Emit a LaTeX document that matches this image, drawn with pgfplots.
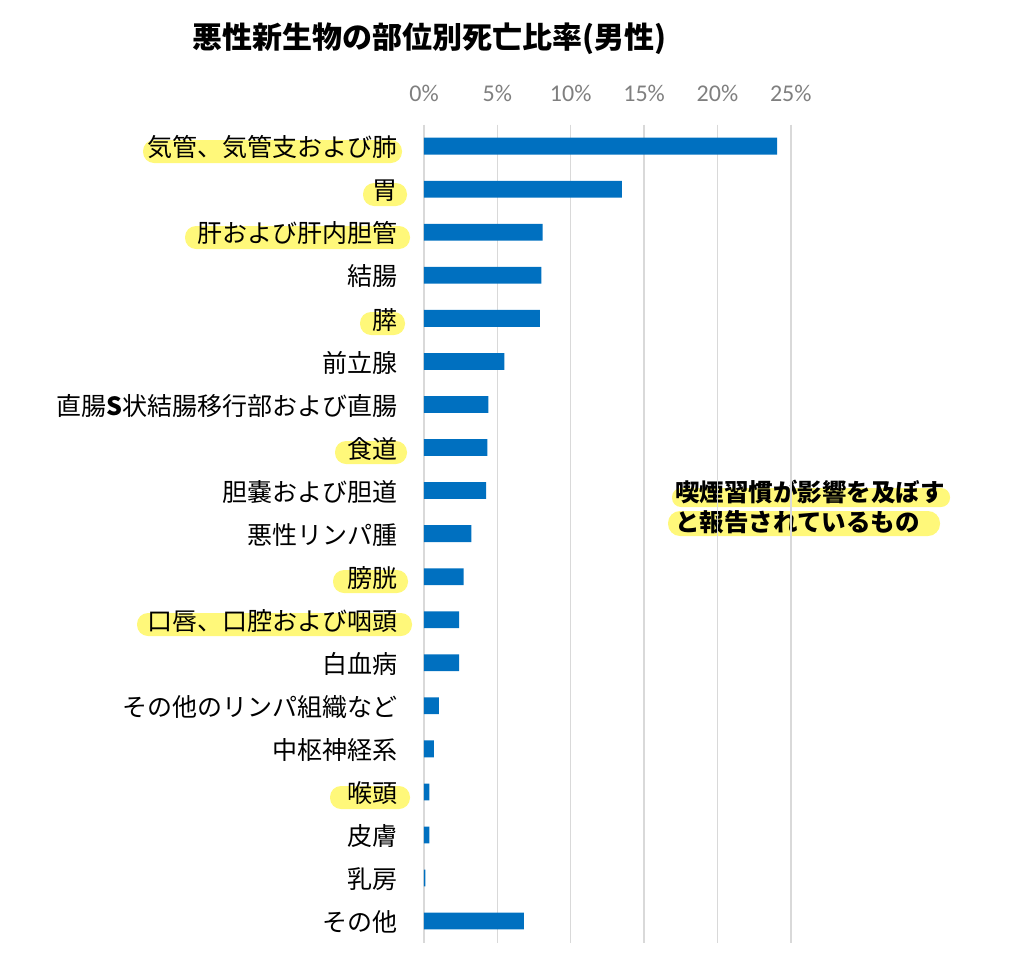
\documentclass[border=0pt]{standalone}
\usepackage{fontspec}
\setmainfont{Noto Sans CJK JP}
\newfontfamily\tickfont{Carlito}
\usepackage{pgfplots}
\pgfplotsset{compat=1.18}

\definecolor{barblue}{HTML}{0070C0}
\definecolor{gridgray}{HTML}{D9D9D9}
\definecolor{tickgray}{HTML}{7F7F7F}
\definecolor{marker}{RGB}{255,248,122}

\pgfdeclarelayer{bg}
\pgfsetlayers{bg,main}

\begin{document}
\begin{tikzpicture}[x=0.5pt,y=-0.5pt]
\path[use as bounding box] (0,0) rectangle (1024,980);

% highlighter strokes behind the labels
\begin{pgfonlayer}{bg}
\fill[marker, rounded corners=5.5pt] (143,140) rectangle (402,163);
\fill[marker, rounded corners=5.5pt] (363,183) rectangle (407,206);
\fill[marker, rounded corners=5.5pt] (185,226) rectangle (410,249);
\fill[marker, rounded corners=5.5pt] (360,312) rectangle (405,335);
\fill[marker, rounded corners=5.5pt] (335,441) rectangle (407,464);
\fill[marker, rounded corners=5.5pt] (333,570) rectangle (408,593);
\fill[marker, rounded corners=5.5pt] (137,613) rectangle (412,636);
\fill[marker, rounded corners=5.5pt] (330,786) rectangle (410,809);
\fill[marker, rounded corners=4.5pt] (672,488) rectangle (950,507);
\fill[marker, rounded corners=6pt] (668,511) rectangle (940,536);
\end{pgfonlayer}

\node[anchor=west, inner sep=0pt, font=\fontsize{15pt}{18pt}\selectfont\bfseries]
  at (192,39) {悪性新生物の部位別死亡比率(男性)};

\node[anchor=west, inner sep=0pt, align=left,
  font=\fontsize{12.25pt}{14.75pt}\selectfont\bfseries]
  at (675,507) {喫煙習慣が影響を及ぼす\\と報告されているもの};

\begin{axis}[
at={(212pt,-471.3pt)}, anchor=south west,
scale only axis,
width=185.6pt, height=409pt,
xmin=0, xmax=25.3,
ymin=-0.5, ymax=18.5,
y dir=reverse,
axis line style={draw=none},
tick style={draw=none},
xticklabel pos=upper,
xtick={0,5,10,15,20,25},
xticklabels={0\%,5\%,10\%,15\%,20\%,25\%},
xticklabel style={anchor=center, yshift=15.8pt, text=tickgray,
  font=\tickfont\fontsize{12pt}{14pt}\selectfont},
xmajorgrids,
x grid style={gridgray, line width=0.75pt},
ytick={0,...,18},
yticklabels={気管、気管支および肺,胃,肝および肝内胆管,結腸,膵,前立腺,直腸\textbf{S}状結腸移行部および直腸,食道,胆嚢および胆道,悪性リンパ腫,膀胱,口唇、口腔および咽頭,白血病,その他のリンパ組織など,中枢神経系,喉頭,皮膚,乳房,その他},
yticklabel style={anchor=east, inner sep=0pt, xshift=-9pt, yshift=-0.6pt,
  font=\fontsize{12.5pt}{15pt}\selectfont},
xbar, bar width=8.4pt, bar shift=0pt,
clip=false,
]
\addplot[fill=barblue, draw=none] coordinates {
(24.06,0) (13.48,1) (8.09,2) (8.0,3) (7.9,4) (5.47,5) (4.39,6)
(4.32,7) (4.23,8) (3.23,9) (2.7,10) (2.39,11) (2.39,12)
(1.02,13) (0.68,14) (0.36,15) (0.36,16) (0.1,17) (6.8,18)
};
\end{axis}
\end{tikzpicture}
\end{document}
